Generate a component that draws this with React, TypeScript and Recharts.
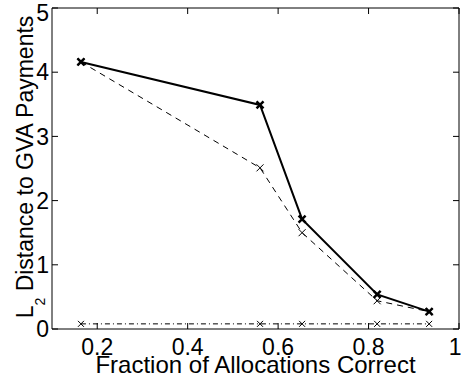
import React from 'react';
import { LineChart, Line, XAxis, YAxis, Label } from 'recharts';

const fractionCorrect = [0.164, 0.56, 0.653, 0.819, 0.934];
const solidDistance = [4.16, 3.49, 1.71, 0.54, 0.27];
const dashedDistance = [4.16, 2.51, 1.5, 0.44, 0.27];
const dashDotDistance = [0.08, 0.08, 0.08, 0.08, 0.08];
const xTicks = [0.2, 0.4, 0.6, 0.8, 1];
const yTicks = [0, 1, 2, 3, 4, 5];

const data = fractionCorrect.map((x, i) => ({
  x,
  solid: solidDistance[i],
  dashed: dashedDistance[i],
  dashdot: dashDotDistance[i],
}));

const FONT = '"Liberation Sans", Arial, Helvetica, sans-serif';
const FS = 23;

const makeX = (size: number, width: number) => (props: any) => {
  const { cx, cy, index } = props;
  if (cx == null || cy == null) return <g key={index} />;
  return (
    <path
      key={index}
      d={`M${cx - size},${cy - size}L${cx + size},${cy + size}M${cx - size},${cy + size}L${cx + size},${cy - size}`}
      stroke="#000"
      strokeWidth={width}
      fill="none"
    />
  );
};

const renderYLabel = () => (
  <text
    transform="translate(33,167) rotate(-90)"
    textAnchor="middle"
    fontFamily={FONT}
    fontSize={FS}
    fill="#000"
  >
    L<tspan fontSize={14} dy={12}>2</tspan>
    <tspan dy={-12}> Distance to GVA Payments</tspan>
  </text>
);

const tickStyle = { fill: '#000', fontSize: FS, fontFamily: FONT };
const noTick = () => <g />;

export default function App() {
  return (
    <div style={{ position: 'absolute', left: 0, top: 0, background: '#fff' }}>
      <LineChart
        width={461}
        height={381}
        data={data}
        margin={{ top: 7, right: 1, left: 0, bottom: 0 }}
      >
        <XAxis
          dataKey="x"
          type="number"
          domain={[0.1, 1]}
          ticks={xTicks}
          height={52}
          tickSize={-6}
          tickMargin={16}
          tick={tickStyle}
          axisLine={{ stroke: '#000', strokeWidth: 1 }}
          tickLine={{ stroke: '#000' }}
          allowDataOverflow
        >
          <Label
            value="Fraction of Allocations Correct"
            position="insideBottom"
            offset={8}
            style={{ fill: '#000', fontSize: 24, fontFamily: FONT }}
          />
        </XAxis>
        <XAxis
          xAxisId="top"
          orientation="top"
          dataKey="x"
          type="number"
          domain={[0.1, 1]}
          ticks={xTicks}
          height={1}
          tickSize={-6}
          tick={noTick}
          axisLine={{ stroke: '#000', strokeWidth: 1 }}
          tickLine={{ stroke: '#000' }}
          allowDataOverflow
        />
        <YAxis
          type="number"
          domain={[0, 5]}
          ticks={yTicks}
          width={52}
          tickSize={-6}
          tickMargin={9}
          tick={tickStyle}
          axisLine={{ stroke: '#000', strokeWidth: 1 }}
          tickLine={{ stroke: '#000' }}
          allowDataOverflow
        >
          <Label content={renderYLabel} />
        </YAxis>
        <YAxis
          yAxisId="right"
          orientation="right"
          type="number"
          domain={[0, 5]}
          ticks={yTicks}
          width={1}
          tickSize={-6}
          tick={noTick}
          axisLine={{ stroke: '#000', strokeWidth: 1 }}
          tickLine={{ stroke: '#000' }}
          allowDataOverflow
        />
        <Line
          dataKey="dashdot"
          stroke="#000"
          strokeWidth={1}
          strokeDasharray="5 3 1 3"
          dot={makeX(3, 1)}
          activeDot={false}
          isAnimationActive={false}
        />
        <Line
          dataKey="dashed"
          stroke="#000"
          strokeWidth={1}
          strokeDasharray="6 5"
          dot={makeX(3.5, 1)}
          activeDot={false}
          isAnimationActive={false}
        />
        <Line
          dataKey="solid"
          stroke="#000"
          strokeWidth={2}
          dot={makeX(3.5, 2.5)}
          activeDot={false}
          isAnimationActive={false}
        />
      </LineChart>
    </div>
  );
}
